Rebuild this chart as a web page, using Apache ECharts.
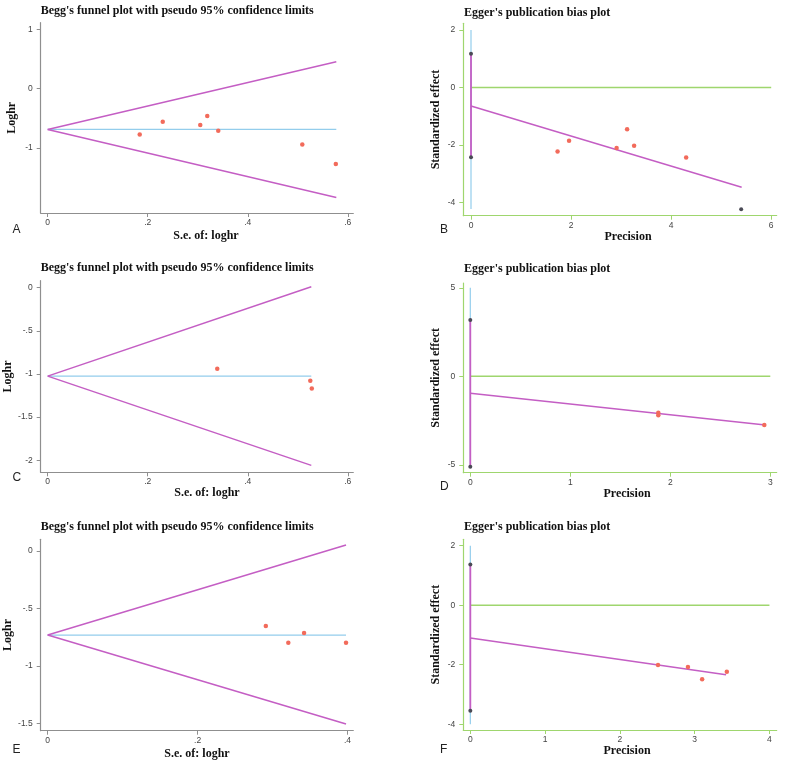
<!DOCTYPE html>
<html><head><meta charset="utf-8">
<script src="https://cdn.jsdelivr.net/npm/echarts@6/dist/echarts.min.js"></script>
<style>html,body{margin:0;padding:0;background:#fff}#c{width:800px;height:764px}</style>
</head><body><div id="c"></div><script>
// ---------- data ----------
const beggTitle = "Begg's funnel plot with pseudo 95% confidence limits";
const eggerTitle = "Egger's publication bias plot";
const panelLetters = ['A','B','C','D','E','F'];

// Panel A (Begg)
const aSe = [0.184, 0.230, 0.305, 0.319, 0.341, 0.509, 0.576];
const aLoghr = [-0.774, -0.56, -0.617, -0.465, -0.713, -0.943, -1.275];
const aUpper = [[0, -0.69], [0.577, 0.45]];
const aLower = [[0, -0.69], [0.577, -1.84]];
const aCenter = [[0, -0.69], [0.577, -0.69]];
const aXTicks = [0, 0.2, 0.4, 0.6];
const aYTicks = [-1, 0, 1];

// Panel B (Egger)
const bPrec = [1.73, 1.96, 2.91, 3.12, 3.26, 4.30];
const bStd = [-2.22, -1.85, -2.10, -1.45, -2.02, -2.43];
const bDark = [[5.40, -4.23]];
const bReg = [[0, -0.64], [5.41, -3.46]];
const bCI = [[0, 1.17], [0, -2.42]];
const bVert = [[0, 2], [0, -4.22]];
const bZero = [[0, 0], [6, 0]];
const bXTicks = [0, 2, 4, 6];
const bYTicks = [-4, -2, 0, 2];

// Panel C (Begg)
const cSe = [0.339, 0.525, 0.528];
const cLoghr = [-0.94, -1.079, -1.17];
const cUpper = [[0, -1.025], [0.527, 0.01]];
const cLower = [[0, -1.025], [0.527, -2.06]];
const cCenter = [[0, -1.025], [0.527, -1.025]];
const cXTicks = [0, 0.2, 0.4, 0.6];
const cYTicks = [-2, -1.5, -1, -0.5, 0];

// Panel D (Egger)
const dPrec = [1.88, 1.88, 2.94];
const dStd = [-2.05, -2.19, -2.75];
const dReg = [[0, -0.96], [2.95, -2.75]];
const dCI = [[0, 3.18], [0, -5.1]];
const dVert = [[0, 5], [0, -5.1]];
const dZero = [[0, 0], [3, 0]];
const dXTicks = [0, 1, 2, 3];
const dYTicks = [-5, 0, 5];

// Panel E (Begg)
const eSe = [0.291, 0.321, 0.342, 0.398];
const eLoghr = [-0.653, -0.799, -0.714, -0.799];
const eUpper = [[0, -0.732], [0.398, 0.052]];
const eLower = [[0, -0.732], [0.398, -1.507]];
const eCenter = [[0, -0.732], [0.398, -0.732]];
const eXTicks = [0, 0.2, 0.4];
const eYTicks = [-1.5, -1, -0.5, 0];

// Panel F (Egger)
const fPrec = [2.51, 2.91, 3.10, 3.43];
const fStd = [-2.01, -2.08, -2.49, -2.24];
const fReg = [[0, -1.10], [3.42, -2.34]];
const fCI = [[0, 1.37], [0, -3.55]];
const fVert = [[0, 2], [0, -4]];
const fZero = [[0, 0], [4, 0]];
const fXTicks = [0, 1, 2, 3, 4];
const fYTicks = [-4, -2, 0, 2];

// ---------- styling / layout ----------
const PINK = '#c45ec4', BLUE = '#93cdec', GREEN = '#9fd66e', RED = '#f26b5b', DARK = '#4a4a55', GRAY = '#8f8f8f';
const serif = 'Liberation Serif';
const sans = 'Liberation Sans';
const stataFmt = v => {
  if (v === 0) return '0';
  let s = String(Math.round(v * 1000) / 1000);
  return s.replace(/^(-?)0\./, '$1.');
};

const layout = [
  {type:'begg', left:40.7, top:22.7, width:312.6, height:190.3, xMin:-0.014, xMax:0.611, yMin:-2.10, yMax:1.11, xT:aXTicks, yT:aYTicks, titleTop:4.5, xGap:17, xShift:18, yGap:23},
  {type:'egger', left:463.3, top:23.3, width:313.4, height:192.4, xMin:-0.154, xMax:6.11, yMin:-4.45, yMax:2.23, xT:bXTicks, yT:bYTicks, titleTop:6.5, xGap:11, xShift:16, yGap:21},
  {type:'begg', left:40.7, top:280.7, width:312.6, height:191.6, xMin:-0.014, xMax:0.611, yMin:-2.14, yMax:0.081, xT:cXTicks, yT:cYTicks, titleTop:262, xGap:10, xShift:20, yGap:23},
  {type:'egger', left:463.3, top:283, width:313.4, height:189.7, xMin:-0.07, xMax:3.064, yMin:-5.44, yMax:5.27, xT:dXTicks, yT:dYTicks, titleTop:263, xGap:11, xShift:14, yGap:21},
  {type:'begg', left:40.7, top:539.3, width:312.6, height:191.4, xMin:-0.0093, xMax:0.4077, yMin:-1.565, yMax:0.102, xT:eXTicks, yT:eYTicks, titleTop:521, xGap:17, xShift:0, yGap:23},
  {type:'egger', left:463.3, top:539.3, width:313.4, height:190.7, xMin:-0.094, xMax:4.097, yMin:-4.195, yMax:2.215, xT:fXTicks, yT:fYTicks, titleTop:521, xGap:12, xShift:14, yGap:21}
];
const letterPos = [[17.5,231],[445,231],[17.5,479],[445,487.5],[17.5,751],[445,751]];

const grids = [], xAxes = [], yAxes = [], titles = [], series = [], graphics = [];
layout.forEach((p, i) => {
  const axisColor = p.type === 'begg' ? GRAY : GREEN;
  grids.push({left:p.left, top:p.top, width:p.width, height:p.height});
  titles.push({text: p.type === 'begg' ? beggTitle : eggerTitle, left: p.type==='begg'? 40.7 : 464, top: p.titleTop, padding:0,
    textStyle:{fontFamily:serif, fontWeight:'bold', fontSize:12, color:'#111'}});
  xAxes.push({type:'value', gridIndex:i, min:p.xMin, max:p.xMax, position:'bottom',
    name: p.type==='begg' ? 'S.e. of: loghr' : 'Precision', nameLocation:'middle', nameGap:p.xGap,
    nameTextStyle:{fontFamily:serif, fontWeight:'bold', fontSize:12, color:'#111', verticalAlign:'top', padding:[0,0,0,p.xShift]},
    axisLine:{show:true, onZero:false, lineStyle:{color:axisColor, width:1.2}},
    axisTick:{show:true, length:4, customValues:p.xT, lineStyle:{color:axisColor}},
    axisLabel:{customValues:p.xT, formatter:stataFmt, margin:5, fontFamily:sans, fontSize:8.5, color:'#444'},
    splitLine:{show:false}});
  yAxes.push({type:'value', gridIndex:i, min:p.yMin, max:p.yMax, position:'left',
    name: p.type==='begg' ? 'Loghr' : 'Standardized effect', nameLocation:'middle', nameGap:p.yGap,
    nameTextStyle:{fontFamily:serif, fontWeight:'bold', fontSize:12, color:'#111'},
    axisLine:{show:true, onZero:false, lineStyle:{color:axisColor, width:1.2}},
    axisTick:{show:true, length:4, customValues:p.yT, lineStyle:{color:axisColor}},
    axisLabel:{customValues:p.yT, formatter:stataFmt, margin:8, fontFamily:sans, fontSize:8.5, color:'#444'},
    splitLine:{show:false}});
  graphics.push({type:'text', left:letterPos[i][0]-5, top:letterPos[i][1]-7,
    style:{text:panelLetters[i], font:'12px "Liberation Sans"', fill:'#222'}});
});

function line(i, data, color, width, z) {
  series.push({type:'line', xAxisIndex:i, yAxisIndex:i, data:data, symbol:'none', silent:true, z:z||2,
    lineStyle:{color:color, width:width}});
}
function pts(i, xs, ys, color, size) {
  series.push({type:'scatter', xAxisIndex:i, yAxisIndex:i, data:xs.map((x,k)=>[x, ys[k]]), symbolSize:size||4.5, z:5,
    itemStyle:{color:color, opacity:1}});
}
function ptsPairs(i, pairs, color, size) {
  series.push({type:'scatter', xAxisIndex:i, yAxisIndex:i, data:pairs, symbolSize:size||4, z:6,
    itemStyle:{color:color, opacity:1}});
}

// A
line(0, aCenter, BLUE, 1.2); line(0, aUpper, PINK, 1.5); line(0, aLower, PINK, 1.5); pts(0, aSe, aLoghr, RED);
// B
line(1, bZero, GREEN, 1.5); line(1, bVert, BLUE, 1.2); line(1, bCI, PINK, 1.8, 3); line(1, bReg, PINK, 1.5);
pts(1, bPrec, bStd, RED); ptsPairs(1, bCI, DARK, 4); ptsPairs(1, bDark, DARK, 4);
// C
line(2, cCenter, BLUE, 1.2); line(2, cUpper, PINK, 1.5); line(2, cLower, PINK, 1.5); pts(2, cSe, cLoghr, RED);
// D
line(3, dZero, GREEN, 1.5); line(3, dVert, BLUE, 1.2); line(3, dCI, PINK, 1.8, 3); line(3, dReg, PINK, 1.5);
pts(3, dPrec, dStd, RED); ptsPairs(3, dCI, DARK, 4);
// E
line(4, eCenter, BLUE, 1.2); line(4, eUpper, PINK, 1.5); line(4, eLower, PINK, 1.5); pts(4, eSe, eLoghr, RED);
// F
line(5, fZero, GREEN, 1.5); line(5, fVert, BLUE, 1.2); line(5, fCI, PINK, 1.8, 3); line(5, fReg, PINK, 1.5);
pts(5, fPrec, fStd, RED); ptsPairs(5, fCI, DARK, 4);

const chart = echarts.init(document.getElementById('c'), null, {renderer:'canvas'});
chart.setOption({animation:false, backgroundColor:'#fff', title:titles, grid:grids, xAxis:xAxes, yAxis:yAxes, series:series, graphic:graphics});
</script></body></html>
